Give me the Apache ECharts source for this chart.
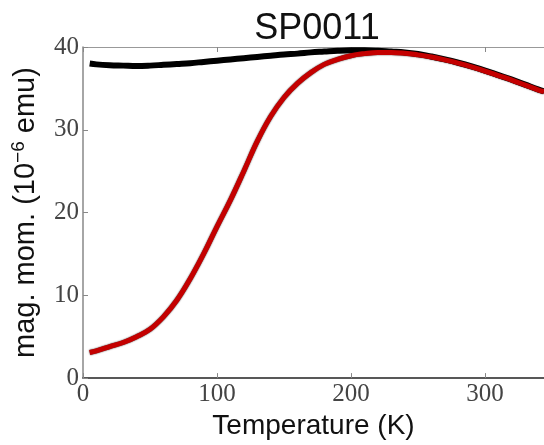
<!DOCTYPE html>
<html>
<head>
<meta charset="utf-8">
<script src="https://cdn.jsdelivr.net/npm/echarts@6/dist/echarts.min.js"></script>
<style>
  html, body { margin: 0; padding: 0; background: #fff; }
  #chart { width: 544px; height: 445px; }
</style>
</head>
<body>
<div id="chart"></div>
<script>
// temperature (K) of the read points
const temps = [5, 10, 20, 30, 40, 50, 60, 70, 80, 90, 100, 110, 120, 130, 140, 150, 160, 170, 180, 190,
  200, 210, 220, 230, 240, 250, 260, 270, 280, 290, 300, 310, 320, 330, 340, 344]
// black curve (field cooled)
const fcValues = [38.0, 37.9, 37.8, 37.75, 37.7, 37.75, 37.85, 37.95, 38.05, 38.2, 38.35, 38.5, 38.65, 38.8,
  38.95, 39.1, 39.2, 39.35, 39.45, 39.55, 39.6, 39.6, 39.55, 39.45, 39.35, 39.15, 38.85, 38.5, 38.1, 37.65,
  37.15, 36.6, 36.05, 35.45, 34.85, 34.65]
// red curve (zero field cooled)
const zfcValues = [3.1, 3.3, 3.8, 4.3, 5.0, 5.9, 7.4, 9.4, 12.0, 15.0, 18.3, 21.5, 25.0, 28.6, 31.6, 33.9,
  35.6, 36.9, 37.9, 38.5, 38.95, 39.2, 39.35, 39.35, 39.25, 39.05, 38.8, 38.45, 38.05, 37.6, 37.1, 36.55,
  36.0, 35.4, 34.8, 34.6]
const xTicks = [0, 100, 200, 300]
const yTicks = [0, 10, 20, 30, 40]

const myChart = echarts.init(document.getElementById('chart'))
const serif = 'Liberation Serif'
const sans = 'Liberation Sans'

const pairs = (ys) => temps.map((t, i) => [t, ys[i]])

const option = {
  animation: false,
  title: {
    text: 'SP0011',
    left: 312,
    top: 6,
    textAlign: 'center',
    textStyle: { fontFamily: sans, fontSize: 36, fontWeight: 'normal', color: '#111' }
  },
  grid: { left: 83, right: 0, top: 47, bottom: 65 },
  xAxis: [
    {
      type: 'value',
      min: xTicks[0],
      max: 344,
      interval: xTicks[1] - xTicks[0],
      position: 'bottom',
      name: 'Temperature (K)',
      nameLocation: 'middle',
      nameGap: 31,
      nameTextStyle: { fontFamily: sans, fontSize: 28, color: '#111' },
      axisLine: { lineStyle: { color: '#222', width: 1.5 } },
      axisTick: { inside: true, length: 5, lineStyle: { color: '#888' } },
      axisLabel: { fontFamily: serif, fontSize: 25, color: '#444', margin: 4, showMaxLabel: false },
      splitLine: { show: false }
    },
    {
      type: 'value',
      min: xTicks[0],
      max: 344,
      interval: xTicks[1] - xTicks[0],
      position: 'top',
      axisLine: { lineStyle: { color: '#999', width: 1 } },
      axisTick: { inside: true, length: 5, lineStyle: { color: '#888' } },
      axisLabel: { show: false },
      splitLine: { show: false }
    }
  ],
  yAxis: {
    type: 'value',
    min: yTicks[0],
    max: yTicks[yTicks.length - 1],
    interval: yTicks[1] - yTicks[0],
    name: '{a|mag. mom. (10}{s|−6}{a| emu)}',
    nameLocation: 'middle',
    nameRotate: 90,
    nameGap: 40,
    nameTextStyle: {
      rich: {
        a: { fontFamily: sans, fontSize: 29, color: '#111', lineHeight: 34 },
        s: { fontFamily: sans, fontSize: 19, color: '#111', verticalAlign: 'top', lineHeight: 34 }
      }
    },
    axisLine: { lineStyle: { color: '#888', width: 1.5 } },
    axisTick: { inside: true, length: 5, lineStyle: { color: '#888' } },
    axisLabel: { fontFamily: serif, fontSize: 25, color: '#444', margin: 4 },
    splitLine: { show: false }
  },
  series: [
    {
      name: 'FC',
      type: 'line',
      data: pairs(fcValues),
      smooth: 0.4,
      showSymbol: false,
      lineStyle: { color: '#000', width: 6 }
    },
    {
      name: 'ZFC',
      type: 'line',
      data: pairs(zfcValues),
      smooth: 0.4,
      showSymbol: false,
      lineStyle: { color: '#c40000', width: 5, shadowColor: 'rgba(30,0,0,1)', shadowBlur: 1.5 }
    }
  ]
}
myChart.setOption(option)
</script>
</body>
</html>
